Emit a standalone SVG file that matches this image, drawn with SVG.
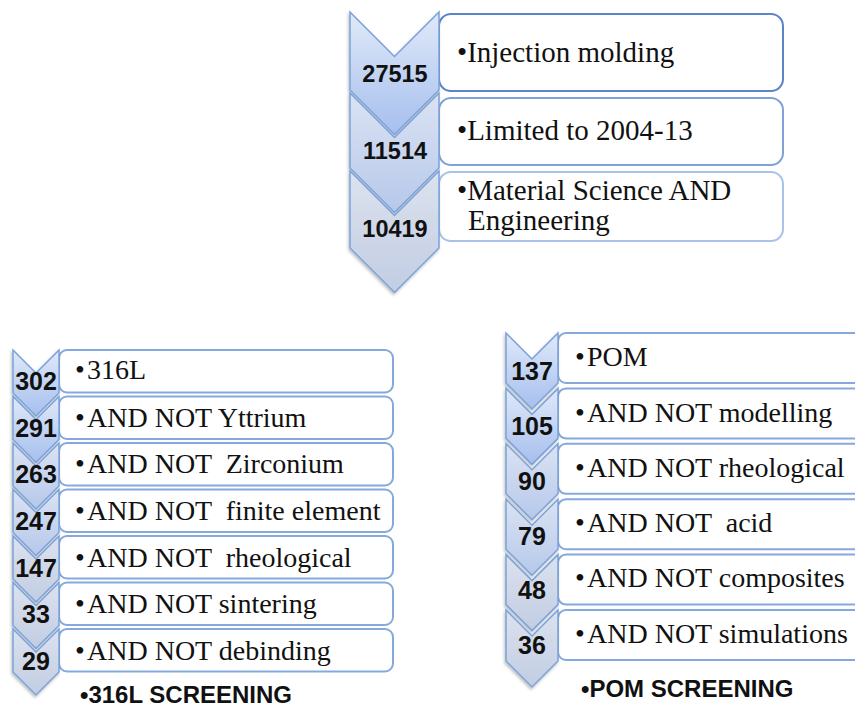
<svg xmlns="http://www.w3.org/2000/svg" width="855" height="707" viewBox="0 0 855 707">
<defs>
<linearGradient id="g1" x1="0" y1="0" x2="0" y2="1"><stop offset="0" stop-color="#e0e9f8"/><stop offset="1" stop-color="#a6bfee"/></linearGradient>
<linearGradient id="g2" x1="0" y1="0" x2="0" y2="1"><stop offset="0" stop-color="#dbe3f3"/><stop offset="1" stop-color="#b6c8ea"/></linearGradient>
<linearGradient id="g3" x1="0" y1="0" x2="0" y2="1"><stop offset="0" stop-color="#dce2ee"/><stop offset="1" stop-color="#c2cde3"/></linearGradient>
<filter id="sh" x="-20%" y="-20%" width="140%" height="140%"><feDropShadow dx="-1" dy="2" stdDeviation="1.5" flood-color="#000" flood-opacity="0.25"/></filter>
</defs>
<style>
.chev{stroke:#7aa2da;stroke-width:1.5;filter:url(#sh)}
.box{fill:#fff;stroke-width:2}
.b1{stroke:#5b84c9}.b2{stroke:#7fa2d9}.b3{stroke:#a9c3e8}.bl{stroke:#86a9dd}
.num{font-family:"Liberation Sans",Arial,sans-serif;font-weight:bold;fill:#111;text-anchor:middle}
.t{font-family:"Liberation Serif","Times New Roman",serif;fill:#111}
.h{font-family:"Liberation Sans",Arial,sans-serif;font-weight:bold;fill:#111}
</style>

<g id="top">
 <g id="top-1">
  <rect class="box b1" x="439" y="14" width="344" height="77" rx="12"/>
  <path class="chev" fill="url(#g1)" d="M350,12 L394.5,56.5 L439,12 L439,90 L394.5,134.5 L350,90 Z"/>
  <text class="num" x="395" y="82" font-size="23.5">27515</text>
  <text class="t" x="457" y="62" font-size="29">•Injection molding</text>
 </g>
 <g id="top-2">
  <rect class="box b2" x="439" y="98" width="344" height="67" rx="12"/>
  <path class="chev" fill="url(#g2)" d="M350,93 L394.5,137.5 L439,93 L439,168 L394.5,212.5 L350,168 Z"/>
  <text class="num" x="395" y="159" font-size="23.5">11514</text>
  <text class="t" x="457" y="140" font-size="29">•Limited to 2004-13</text>
 </g>
 <g id="top-3">
  <rect class="box b3" x="439" y="172" width="344" height="69" rx="12"/>
  <path class="chev" fill="url(#g3)" d="M350,171 L394.5,215.5 L439,171 L439,248 L394.5,292.5 L350,248 Z"/>
  <text class="num" x="395" y="237" font-size="23.5">10419</text>
  <text class="t" x="457" y="200" font-size="29">•Material Science AND</text>
  <text class="t" x="468" y="230" font-size="29">Engineering</text>
 </g>
</g>

<g id="left">
 <g id="l1"><rect class="box bl" x="59" y="350" width="334" height="42.5" rx="8"/>
  <path class="chev" fill="url(#g1)" d="M13,350 L36,373 L59,350 L59,393 L36,416 L13,393 Z"/>
  <text class="num" x="36" y="390" font-size="25">302</text>
  <text class="t" x="75" y="379" font-size="28">•</text><text class="t" x="87" y="379" font-size="28">316L</text></g>
 <g id="l2"><rect class="box bl" x="59" y="396.5" width="334" height="42.5" rx="8"/>
  <path class="chev" fill="url(#g1)" d="M13,396.5 L36,419.5 L59,396.5 L59,439.5 L36,462.5 L13,439.5 Z"/>
  <text class="num" x="36" y="437" font-size="25">291</text>
  <text class="t" x="75" y="427" font-size="28">•</text><text class="t" x="87" y="427" font-size="28">AND NOT Yttrium</text></g>
 <g id="l3"><rect class="box bl" x="59" y="443" width="334" height="42.5" rx="8"/>
  <path class="chev" fill="url(#g2)" d="M13,443 L36,466 L59,443 L59,486 L36,509 L13,486 Z"/>
  <text class="num" x="36" y="483" font-size="25">263</text>
  <text class="t" x="75" y="473" font-size="28">•</text><text class="t" x="87" y="473" font-size="28" xml:space="preserve">AND NOT  Zirconium</text></g>
 <g id="l4"><rect class="box bl" x="59" y="489.5" width="334" height="42.5" rx="8"/>
  <path class="chev" fill="url(#g2)" d="M13,489.5 L36,512.5 L59,489.5 L59,532.5 L36,555.5 L13,532.5 Z"/>
  <text class="num" x="36" y="530" font-size="25">247</text>
  <text class="t" x="75" y="520" font-size="28">•</text><text class="t" x="87" y="520" font-size="28" xml:space="preserve">AND NOT  finite element</text></g>
 <g id="l5"><rect class="box bl" x="59" y="536" width="334" height="42.5" rx="8"/>
  <path class="chev" fill="url(#g3)" d="M13,536 L36,559 L59,536 L59,579 L36,602 L13,579 Z"/>
  <text class="num" x="36" y="577" font-size="25">147</text>
  <text class="t" x="75" y="567" font-size="28">•</text><text class="t" x="87" y="567" font-size="28" xml:space="preserve">AND NOT  rheological</text></g>
 <g id="l6"><rect class="box bl" x="59" y="582.5" width="334" height="42.5" rx="8"/>
  <path class="chev" fill="url(#g3)" d="M13,582.5 L36,605.5 L59,582.5 L59,625.5 L36,648.5 L13,625.5 Z"/>
  <text class="num" x="36" y="623" font-size="25">33</text>
  <text class="t" x="75" y="613" font-size="28">•</text><text class="t" x="87" y="613" font-size="28">AND NOT sintering</text></g>
 <g id="l7"><rect class="box bl" x="59" y="629" width="334" height="42.5" rx="8"/>
  <path class="chev" fill="url(#g3)" d="M13,629 L36,652 L59,629 L59,672 L36,695 L13,672 Z"/>
  <text class="num" x="36" y="670" font-size="25">29</text>
  <text class="t" x="75" y="660" font-size="28">•</text><text class="t" x="87" y="660" font-size="28">AND NOT debinding</text></g>
 <text class="h" x="80" y="703" font-size="24">•316L SCREENING</text>
</g>

<g id="right">
 <g id="r1"><rect class="box bl" x="558" y="333" width="320" height="50" rx="8"/>
  <path class="chev" fill="url(#g1)" d="M506,333 L532,359 L558,333 L558,383 L532,409 L506,383 Z"/>
  <text class="num" x="532" y="380" font-size="25">137</text>
  <text class="t" x="575" y="366" font-size="28">•</text><text class="t" x="587" y="366" font-size="28">POM</text></g>
 <g id="r2"><rect class="box bl" x="558" y="388.4" width="320" height="50" rx="8"/>
  <path class="chev" fill="url(#g1)" d="M506,388.4 L532,414.4 L558,388.4 L558,438.4 L532,464.4 L506,438.4 Z"/>
  <text class="num" x="532" y="435" font-size="25">105</text>
  <text class="t" x="575" y="422" font-size="28">•</text><text class="t" x="587" y="422" font-size="28">AND NOT modelling</text></g>
 <g id="r3"><rect class="box bl" x="558" y="443.8" width="320" height="50" rx="8"/>
  <path class="chev" fill="url(#g2)" d="M506,443.8 L532,469.8 L558,443.8 L558,493.8 L532,519.8 L506,493.8 Z"/>
  <text class="num" x="532" y="490" font-size="25">90</text>
  <text class="t" x="575" y="477" font-size="28">•</text><text class="t" x="587" y="477" font-size="28">AND NOT rheological</text></g>
 <g id="r4"><rect class="box bl" x="558" y="499.2" width="320" height="50" rx="8"/>
  <path class="chev" fill="url(#g2)" d="M506,499.2 L532,525.2 L558,499.2 L558,549.2 L532,575.2 L506,549.2 Z"/>
  <text class="num" x="532" y="545" font-size="25">79</text>
  <text class="t" x="575" y="532" font-size="28">•</text><text class="t" x="587" y="532" font-size="28" xml:space="preserve">AND NOT  acid</text></g>
 <g id="r5"><rect class="box bl" x="558" y="554.6" width="320" height="50" rx="8"/>
  <path class="chev" fill="url(#g3)" d="M506,554.6 L532,580.6 L558,554.6 L558,604.6 L532,630.6 L506,604.6 Z"/>
  <text class="num" x="532" y="599" font-size="25">48</text>
  <text class="t" x="575" y="587" font-size="28">•</text><text class="t" x="587" y="587" font-size="28">AND NOT composites</text></g>
 <g id="r6"><rect class="box bl" x="558" y="610" width="320" height="50" rx="8"/>
  <path class="chev" fill="url(#g3)" d="M506,610 L532,636 L558,610 L558,661 L532,687 L506,661 Z"/>
  <text class="num" x="532" y="654" font-size="25">36</text>
  <text class="t" x="575" y="643" font-size="28">•</text><text class="t" x="587" y="643" font-size="28">AND NOT simulations</text></g>
 <text class="h" x="581" y="697" font-size="24">•POM SCREENING</text>
</g>
</svg>
